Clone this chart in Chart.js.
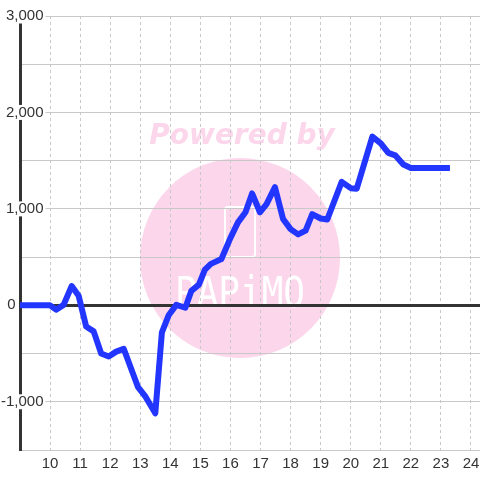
<!DOCTYPE html>
<html>
<head>
<meta charset="utf-8">
<script src="https://cdn.jsdelivr.net/npm/chart.js@4"></script>
<style>
  html, body { margin: 0; padding: 0; background: #fff; }
  canvas { display: block; }
</style>
</head>
<body>
<canvas id="chart" width="480" height="480"></canvas>
<script>
// Hours of the day (x) and running balance (y)
const hours = [9, 10, 10.2, 10.45, 10.72, 10.95, 11.2, 11.45, 11.7, 11.95, 12.2, 12.45,
    12.92, 13.18, 13.5, 13.72, 13.95, 14.2, 14.5, 14.7, 14.95, 15.15, 15.35, 15.7,
    16.0, 16.25, 16.5, 16.72, 16.98, 17.2, 17.48, 17.75, 18.0, 18.25, 18.5, 18.72,
    19.0, 19.22, 19.7, 20.0, 20.2, 20.72, 21.0, 21.25, 21.48, 21.75, 22.0, 23.3];
const balance = [0, 0, -45, 5, 200, 100, -220, -270, -500, -530, -480, -450,
    -845, -950, -1120, -280, -100, 5, -25, 150, 215, 370, 430, 480,
    700, 860, 965, 1160, 965, 1050, 1225, 895, 790, 736, 775, 945,
    900, 890, 1280, 1215, 1210, 1750, 1680, 1580, 1555, 1460, 1425, 1425];

const xMin = 9, xMax = 24.3;
const yMin = -1500, yMax = 3000, yStep = 500;

const pink = 'rgb(252, 214, 235)';
const labelFont = '"Liberation Sans", Arial, sans-serif';

// Watermark drawn behind everything
const watermark = {
    id: 'watermark',
    beforeDraw(chart) {
        const ctx = chart.ctx;
        ctx.save();
        ctx.fillStyle = '#fff';
        ctx.fillRect(0, 0, chart.width, chart.height);

        ctx.fillStyle = pink;
        ctx.beginPath();
        ctx.arc(240, 258, 100, 0, Math.PI * 2);
        ctx.fill();

        ctx.font = 'bold italic 28px "DejaVu Sans"';
        ctx.textAlign = 'center';
        ctx.textBaseline = 'alphabetic';
        ctx.fillText('Powered by', 242, 144);

        ctx.strokeStyle = '#fff';
        ctx.lineWidth = 2;
        ctx.beginPath();
        ctx.roundRect(225, 207, 30, 50, 3);
        ctx.stroke();

        ctx.fillStyle = '#fff';
        ctx.translate(240, 307);
        ctx.scale(1, 1.2);
        ctx.font = '36px "DejaVu Sans Mono"';
        ctx.fillText('PAPiMO', 0, 0);
        ctx.restore();
    }
};

const ctx = document.getElementById('chart');

new Chart(ctx, {
    type: 'line',
    data: {
        datasets: [{
            data: hours.map((h, i) => ({ x: h, y: balance[i] })),
            borderColor: '#2236ff',
            borderWidth: 6,
            borderJoinStyle: 'round',
            pointRadius: 0,
            tension: 0,
            fill: false
        }]
    },
    options: {
        responsive: false,
        animation: false,
        layout: {
            padding: { top: 16, right: 0, bottom: 2, left: 0 }
        },
        plugins: {
            legend: { display: false },
            tooltip: { enabled: false }
        },
        scales: {
            x: {
                type: 'linear',
                min: xMin,
                max: xMax,
                afterFit(scale) {
                    // let the plot run to the right edge
                    scale.paddingLeft = 0;
                    scale.paddingRight = 0;
                },
                grid: {
                    color: '#c8c8c8',
                    lineWidth: 1,
                    drawTicks: false
                },
                border: { display: false, dash: [3, 3] },
                ticks: {
                    stepSize: 1,
                    includeBounds: false,
                    padding: 5,
                    color: '#333',
                    font: { family: labelFont, size: 15 },
                    maxRotation: 0,
                    callback: (v) => v === xMin ? '' : v
                }
            },
            y: {
                min: yMin,
                max: yMax,
                afterFit(scale) { scale.width = 20; },
                grid: {
                    drawTicks: false,
                    color: (c) => c.tick && c.tick.value === 0 ? '#333' : '#c8c8c8',
                    lineWidth: (c) => c.tick && c.tick.value === 0 ? 3 : 1
                },
                border: { display: true, color: '#333', width: 3 },
                ticks: {
                    stepSize: yStep,
                    mirror: true,
                    crossAlign: 'far',
                    padding: -19,
                    color: '#333',
                    font: { family: labelFont, size: 15, lineHeight: 1 },
                    showLabelBackdrop: (c) => c.tick && c.tick.value !== 0 && c.tick.value % 1000 === 0,
                    backdropColor: '#fff',
                    backdropPadding: { top: 0, bottom: 0, left: 1, right: 2 },
                    callback: (v) => {
                        if (v % 1000 !== 0) return '';
                        if (v === 0) return '0\u00a0\u00a0\u00a0\u00a0\u00a0\u00a0\u2009';
                        return v.toLocaleString('en-US');
                    }
                }
            }
        }
    },
    plugins: [watermark]
});
</script>
</body>
</html>
